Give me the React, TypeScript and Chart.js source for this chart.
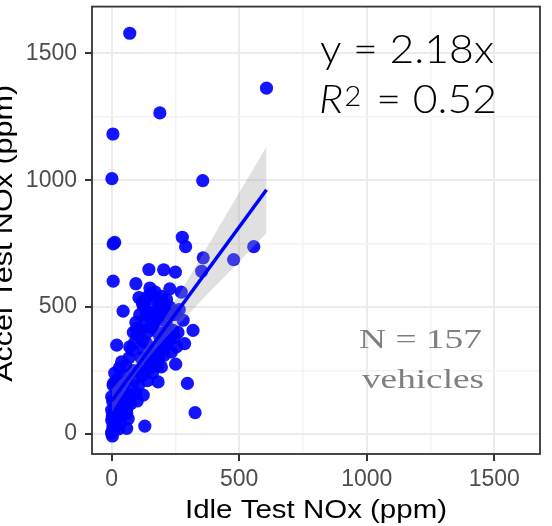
import React, { useEffect, useRef } from 'react';
import { Chart, registerables } from 'chart.js';

Chart.register(...registerables);

// ---- data ----
const idleNOx = [
  71, 607, 189, 5, 1, 357, 6, 12, 277, 290, 557, 359, 478, 353, 146, 204, 250, 6, 95, 228,
  107, 195, 273, 45, 123, 176, 228, 280, 319, 98, 150, 241, 20, 71, 254, 286, 234, 39, 195, 251,
  6, 182, 297, 0, 124, 0, 59, 327, 130, 59, 0, 0, 3,
  2, 5, 8, 12, 3, 18, 22, 10, 28, 35, 15, 25, 4, 30, 40, 45, 8, 18, 28, 38,
  50, 55, 60, 65, 12, 22, 35, 48, 62, 70, 75, 80, 30, 55, 68, 85, 90, 95, 100, 105,
  110, 120, 130, 140, 150, 160, 170, 180, 115, 125, 135, 145, 155, 165, 175, 185, 195, 205, 215, 225,
  80, 90, 100, 110, 120, 130, 140, 160, 170, 180, 190, 200, 210, 220, 230, 245, 260, 150, 160, 180,
  200, 215, 235, 250, 190, 205, 130, 110, 95, 85,
  140, 155, 165, 185, 200, 215, 150, 170, 120, 210, 245, 265, 135, 190,
];
const accelNOx = [
  1579, 1363, 1265, 1182, 1006, 998, 749, 755, 775, 738, 738, 694, 687, 641, 648, 647, 638, 602, 592, 572,
  537, 542, 559, 484, 507, 487, 500, 448, 408, 415, 421, 408, 350, 343, 343, 356, 323, 284, 264, 275,
  192, 205, 199, 147, 153, 94, 81, 84, 31, 22, 3, 55, -8,
  10, 30, 15, 45, 70, 35, 65, 90, 20, 45, 110, 130, 130, 100, 75, 110, 200, 175, 160, 145,
  170, 130, 100, 60, 240, 215, 200, 230, 210, 150, 120, 180, 260, 270, 300, 250, 215, 160, 130, 190,
  250, 230, 270, 210, 260, 240, 290, 270, 300, 330, 360, 300, 310, 340, 320, 300, 330, 310, 350, 370,
  330, 360, 390, 410, 370, 440, 400, 420, 450, 400, 380, 360, 400, 420, 390, 380, 400, 460, 480, 470,
  470, 450, 470, 480, 520, 510, 500, 470, 440, 400,
  540, 555, 530, 520, 510, 530, 575, 560, 520, 480, 470, 490, 470, 450,
];

// linear fit line and its confidence band
const fitX = [0, 607];
const fitY = [130, 962];
const bandX = [0, 100, 200, 300, 400, 500, 607];
const bandUpper = [175, 292, 443, 610, 780, 950, 1132];
const bandLower = [85, 242, 365, 472, 576, 680, 792];

// axes
const majorTicks = [0, 500, 1000, 1500];
const minorTicks = [250, 750, 1250];
const tickLabels = ['0', '500', '1000', '1500'];
const xRange = [-77, 1679];
const yRange = [-79, 1684];
const xTitle = 'Idle Test NOx (ppm)';
const yTitle = 'Accel Test NOx (ppm)';

// annotations
const eqText = 'y = 2.18x';
const r2Letter = 'R';
const r2Sup = '2';
const r2Rest = ' = 0.52';
const nText = 'N = 157';
const nUnit = 'vehicles';

const SANS = '"Liberation Sans", Arial, sans-serif';
const LIGHT = 'Lato, Roboto, sans-serif';
const SERIF = '"Liberation Serif", "Times New Roman", serif';

function fitText(ctx: CanvasRenderingContext2D, text: string, x: number, y: number, width: number) {
  const w = ctx.measureText(text).width;
  ctx.save();
  ctx.translate(x, y);
  ctx.scale(width / w, 1);
  ctx.textAlign = 'left';
  ctx.fillText(text, 0, 0);
  ctx.restore();
}

const decorPlugin = {
  id: 'decor',
  afterDraw(chart: any) {
    const ctx: CanvasRenderingContext2D = chart.ctx;
    const a = chart.chartArea;
    ctx.save();
    // panel border
    ctx.strokeStyle = '#333333';
    ctx.lineWidth = 1.8;
    ctx.strokeRect(a.left, a.top, a.right - a.left, a.bottom - a.top);

    ctx.textBaseline = 'alphabetic';
    // x axis title
    ctx.fillStyle = '#000000';
    ctx.font = `26px ${SANS}`;
    {
      const w = ctx.measureText(xTitle).width;
      const target = 262;
      const cx = (a.left + a.right) / 2;
      ctx.save();
      ctx.translate(cx - target / 2, 518);
      ctx.scale(target / w, 1);
      ctx.fillText(xTitle, 0, 0);
      ctx.restore();
    }
    // y axis title
    {
      const w = ctx.measureText(yTitle).width;
      const target = 297;
      const cy = (a.top + a.bottom) / 2 + 3;
      ctx.save();
      ctx.translate(12, cy);
      ctx.rotate(-Math.PI / 2);
      ctx.translate(-target / 2, 0);
      ctx.scale(target / w, 1);
      ctx.fillText(yTitle, 0, 0);
      ctx.restore();
    }

    // equation
    ctx.fillStyle = '#000000';
    ctx.font = `300 39px ${LIGHT}`;
    fitText(ctx, eqText, 320, 63, 174);

    // R^2 line
    {
      const fMain = `300 39px ${LIGHT}`;
      const fItal = `italic 300 39px ${LIGHT}`;
      const fSup = `300 27px ${LIGHT}`;
      ctx.font = fItal;
      const w1 = ctx.measureText(r2Letter).width;
      ctx.font = fSup;
      const w2 = ctx.measureText(r2Sup).width;
      ctx.font = fMain;
      const w3 = ctx.measureText(r2Rest).width;
      const total = w1 + w2 + w3 + 4;
      const s = 178 / total;
      ctx.save();
      ctx.translate(319, 113);
      ctx.scale(s, 1);
      ctx.font = fItal;
      ctx.fillText(r2Letter, 0, 0);
      ctx.font = fSup;
      ctx.fillText(r2Sup, w1 + 1, -7);
      ctx.font = fMain;
      ctx.fillText(r2Rest, w1 + 4 + w2, 0);
      ctx.restore();
    }

    // N = 157 vehicles
    ctx.fillStyle = '#7F7F7F';
    ctx.font = `27px ${SERIF}`;
    fitText(ctx, nText, 359, 348, 123);
    fitText(ctx, nUnit, 362, 388, 122);
    ctx.restore();
  },
};

const gridValues = [...majorTicks, ...minorTicks].sort((p, q) => p - q);
const isMajor = (v: number) => majorTicks.indexOf(v) >= 0;

function scaleOptions(axis: 'x' | 'y', range: number[]) {
  return {
    type: 'linear' as const,
    min: range[0],
    max: range[1],
    afterBuildTicks: (scale: any) => {
      scale.ticks = gridValues.map((v) => ({ value: v }));
    },
    afterFit: (scale: any) => {
      if (axis === 'y') {
        scale.width = 92;
        scale.paddingTop = 0;
        scale.paddingBottom = 0;
      } else {
        scale.height = 72;
        scale.paddingLeft = 0;
        scale.paddingRight = 0;
      }
    },
    border: { display: false },
    grid: {
      color: (c: any) => (c.tick && isMajor(c.tick.value) ? '#EBEBEB' : '#F3F3F3'),
      lineWidth: (c: any) => (c.tick && isMajor(c.tick.value) ? 2 : 1.5),
      tickColor: (c: any) => (c.tick && isMajor(c.tick.value) ? '#333333' : 'rgba(0,0,0,0)'),
      tickWidth: 2,
      tickLength: 7,
      drawTicks: true,
    },
    ticks: {
      autoSkip: false,
      maxRotation: 0,
      padding: axis === 'y' ? 8 : 5,
      color: '#4D4D4D',
      font: { family: SANS, size: 23 },
      callback: (value: any) => {
        const i = majorTicks.indexOf(Number(value));
        return i >= 0 ? tickLabels[i] : '';
      },
    },
    title: { display: false },
  };
}

export default function App() {
  const ref = useRef<HTMLCanvasElement | null>(null);
  useEffect(() => {
    if (!ref.current) return;
    const points = idleNOx.map((x, i) => ({ x, y: accelNOx[i] }));
    const chart = new Chart(ref.current, {
      type: 'scatter',
      data: {
        datasets: [
          {
            label: 'vehicles',
            data: points,
            order: 4,
            pointRadius: 6.6,
            pointBorderWidth: 0,
            backgroundColor: 'rgba(0,0,255,0.92)',
            borderColor: 'rgba(0,0,0,0)',
            showLine: false,
          },
          {
            label: 'lower',
            data: bandX.map((x, i) => ({ x, y: bandLower[i] })),
            order: 3,
            showLine: true,
            pointRadius: 0,
            borderWidth: 0,
            borderColor: 'rgba(0,0,0,0)',
            cubicInterpolationMode: 'monotone',
            fill: false,
          },
          {
            label: 'upper',
            data: bandX.map((x, i) => ({ x, y: bandUpper[i] })),
            order: 2,
            showLine: true,
            pointRadius: 0,
            borderWidth: 0,
            borderColor: 'rgba(0,0,0,0)',
            cubicInterpolationMode: 'monotone',
            fill: '-1',
            backgroundColor: 'rgba(153,153,153,0.3)',
          },
          {
            label: 'fit',
            data: fitX.map((x, i) => ({ x, y: fitY[i] })),
            order: 1,
            showLine: true,
            pointRadius: 0,
            borderWidth: 3.5,
            borderColor: '#0000FF',
            fill: false,
          },
        ],
      } as any,
      options: {
        animation: false,
        responsive: false,
        devicePixelRatio: 1,
        events: [],
        layout: { padding: { left: 0, right: 12, top: 6, bottom: 0 } },
        plugins: {
          legend: { display: false },
          tooltip: { enabled: false },
          title: { display: false },
        },
        scales: {
          x: scaleOptions('x', xRange),
          y: scaleOptions('y', yRange),
        },
      } as any,
      plugins: [decorPlugin],
    });
    return () => chart.destroy();
  }, []);
  return (
    <div style={{ position: 'absolute', left: 0, top: 0, width: 552, height: 526, background: '#fff' }}>
      <canvas ref={ref} width={552} height={526} style={{ width: 552, height: 526, display: 'block' }} />
    </div>
  );
}
